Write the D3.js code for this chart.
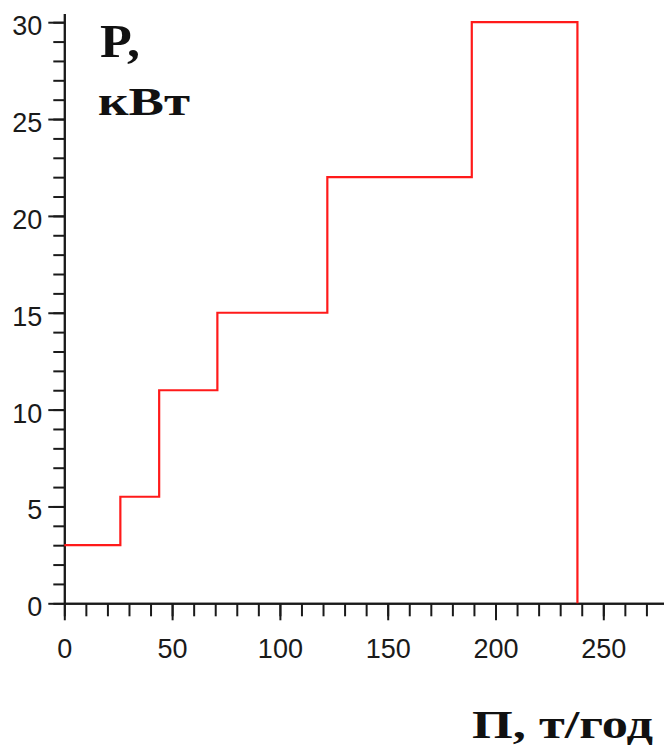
<!DOCTYPE html>
<html>
<head>
<meta charset="utf-8">
<script src="https://cdn.jsdelivr.net/npm/d3@7/dist/d3.min.js"></script>
<style>
	html, body { margin: 0; padding: 0; background: #fff; }
	svg { display: block; }
</style>
</head>
<body>
<svg id="chart" width="664" height="753"></svg>
<script>
// points where the power level changes (t/год) and the level from that point on (кВт)
var breakPoints = [0, 26, 44, 71, 122, 189, 238];
var powerLevels = [3, 5.5, 11, 15, 22, 30, 0];

var xMajorTicks = [0, 50, 100, 150, 200, 250];
var xMinorTicks = d3.range(0, 280, 10);
var yMajorTicks = [0, 5, 10, 15, 20, 25, 30];
var yMinorTicks = d3.range(0, 31, 1);

var yTitleTop = "P,";
var yTitleBottom = "кВт";
var xTitle = "П, т/год";

var width = 664, height = 753;
var x0 = 64.3, y0 = 603.3;

var svg = d3.select('#chart');

var xScale = d3.scaleLinear()
	.domain([0, 278])
	.range([x0, x0 + 2.156 * 278]);
var yScale = d3.scaleLinear()
	.domain([0, 30.45])
	.range([y0, y0 - 19.37 * 30.45]);

var axisColor = "#1a1a1a";
var tickFont = "'Liberation Sans', Arial, sans-serif";

//minor ticks first, major ticks (with labels) on top
svg.append("g")
	.attr("class", "x-minor")
	.attr("transform", "translate(0," + y0 + ")")
	.call(d3.axisBottom(xScale).tickValues(xMinorTicks).tickSize(13).tickSizeOuter(0).tickFormat(""));
svg.append("g")
	.attr("class", "x-major")
	.attr("transform", "translate(0," + y0 + ")")
	.call(d3.axisBottom(xScale).tickValues(xMajorTicks).tickSize(17).tickSizeOuter(0).tickFormat(d3.format("d")));

svg.append("g")
	.attr("class", "y-minor")
	.attr("transform", "translate(" + x0 + ",0)")
	.call(d3.axisLeft(yScale).tickValues(yMinorTicks).tickSize(11).tickSizeOuter(0).tickFormat(""));
svg.append("g")
	.attr("class", "y-major")
	.attr("transform", "translate(" + x0 + ",0)")
	.call(d3.axisLeft(yScale).tickValues(yMajorTicks).tickSize(16).tickSizeOuter(0).tickFormat(d3.format("d")));

svg.selectAll(".domain")
	.attr("stroke", axisColor)
	.attr("stroke-width", 2);
svg.selectAll(".tick line")
	.attr("stroke", axisColor)
	.attr("stroke-width", 2);

svg.selectAll(".x-major .tick text")
	.attr("y", 55)
	.attr("dy", 0)
	.attr("fill", axisColor)
	.attr("font-family", tickFont)
	.attr("font-size", 27);
svg.selectAll(".y-major .tick text")
	.attr("x", -22)
	.attr("dy", 12.5)
	.attr("fill", axisColor)
	.attr("font-family", tickFont)
	.attr("font-size", 27);

//the step line
var line = d3.line()
	.x(function(d,i){ return xScale(d); })
	.y(function(d,i){ return yScale(powerLevels[i]); })
	.curve(d3.curveStepAfter);

svg.append("path")
	.datum(breakPoints)
	.attr("d", line)
	.attr("fill", "none")
	.attr("stroke", "#ff1a1a")
	.attr("stroke-width", 2.2);

//axis titles - the original font is wider than Liberation Serif, so stretch with textLength
var titleFont = "'Liberation Serif', 'Times New Roman', serif";
svg.append("text")
	.attr("x", 100)
	.attr("y", 57)
	.attr("font-family", titleFont)
	.attr("font-weight", "bold")
	.attr("font-size", 47)
	.attr("fill", "#111")
	.attr("textLength", 40)
	.attr("lengthAdjust", "spacingAndGlyphs")
	.text(yTitleTop);
svg.append("text")
	.attr("x", 98)
	.attr("y", 115)
	.attr("font-family", titleFont)
	.attr("font-weight", "bold")
	.attr("font-size", 41)
	.attr("fill", "#111")
	.attr("textLength", 92)
	.attr("lengthAdjust", "spacingAndGlyphs")
	.text(yTitleBottom);
svg.append("text")
	.attr("x", 472)
	.attr("y", 738)
	.attr("font-family", titleFont)
	.attr("font-weight", "bold")
	.attr("font-size", 41)
	.attr("fill", "#111")
	.attr("textLength", 181)
	.attr("lengthAdjust", "spacingAndGlyphs")
	.text(xTitle);
</script>
</body>
</html>
